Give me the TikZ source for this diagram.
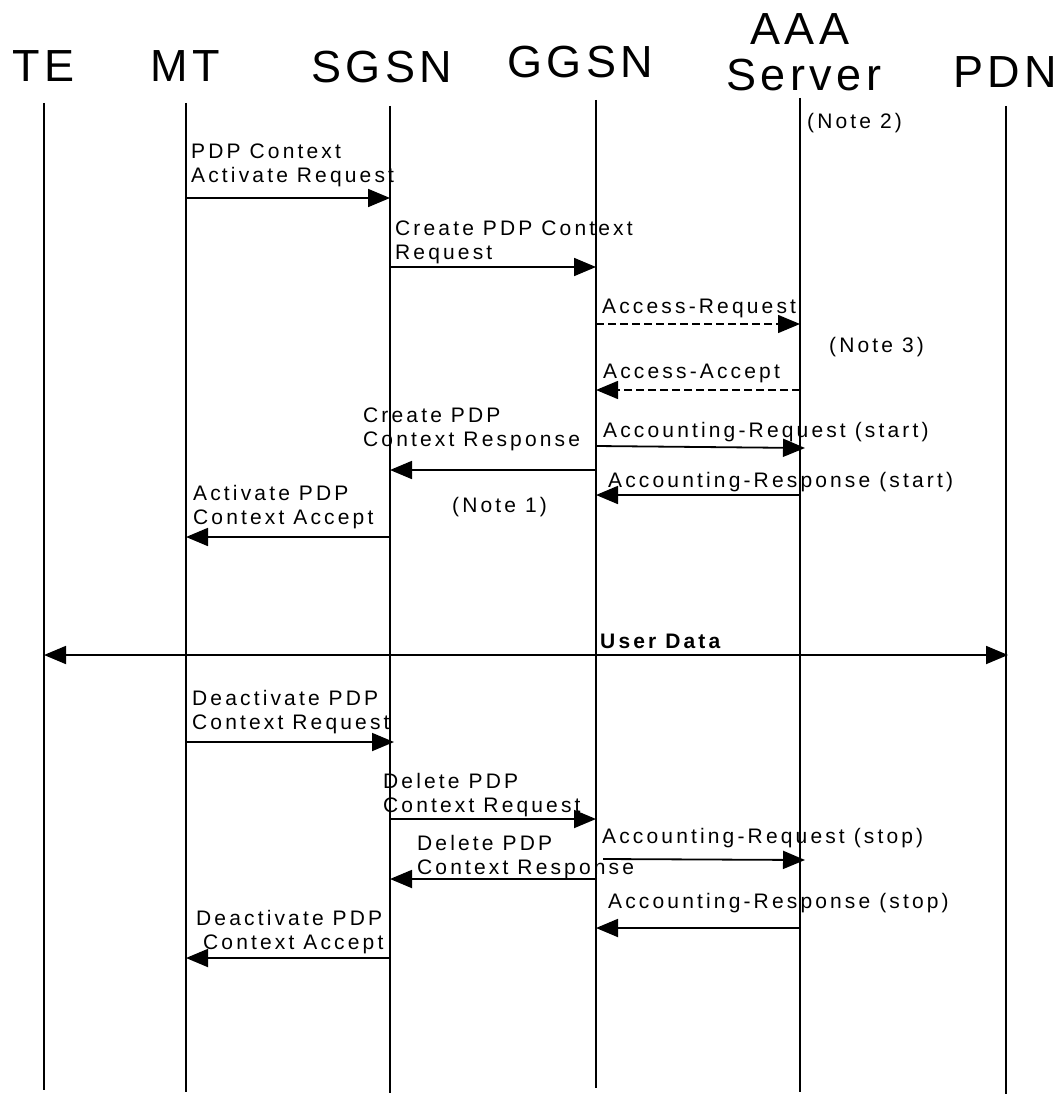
\documentclass[tikz,border=0pt]{standalone}
\usepackage{fontspec}
\setmainfont{Liberation Sans}
\newfontfamily\hdrfont[LetterSpace=10]{Liberation Sans}
\newfontfamily\msgfont[LetterSpace=15]{Liberation Sans}
\newfontfamily\msgboldfont[LetterSpace=15]{Liberation Sans Bold}
\usetikzlibrary{arrows.meta}
\newcommand\twoline[2]{\vtop{\hbox{#1}\hbox{#2}}}
\begin{document}
\begin{tikzpicture}[x=1pt,y=-1pt,
  hdr/.style={font=\hdrfont\fontsize{45}{50}\selectfont, inner sep=0pt, anchor=base west},
  msg/.style={font=\msgfont\fontsize{21}{24}\selectfont, inner sep=0pt, anchor=base west},
  boldmsg/.style={font=\msgboldfont\fontsize{21}{24}\selectfont, inner sep=0pt, anchor=base west},
  life/.style={line width=2pt},
  sig/.style={line width=1.8pt, -{Triangle[length=22pt,width=18pt]}},
  dsig/.style={line width=1.5pt, dash pattern=on 8pt off 4pt, -{Triangle[length=22pt,width=18pt]}},
  bisig/.style={line width=1.8pt, {Triangle[length=22pt,width=18pt]}-{Triangle[length=22pt,width=18pt]}}]
\useasboundingbox (0,0) rectangle (1056,1118);

% headers
\node[hdr] (hTE) at (12,82) {TE};
\node[hdr] (hMT) at (150,82) {MT};
\node[hdr] (hSGSN) at (311,83) {SGSN};
\node[hdr] (hGGSN) at (507,78) {GGSN};
\node[hdr] (hAAA) at (750,45) {AAA};
\node[hdr] (hServer) at (726,91) {Server};
\node[hdr] (hPDN) at (953,88) {PDN};

% lifelines
\coordinate (te1) at (44,103);   \coordinate (te2) at (44,1090);
\coordinate (mt1) at (186,103);  \coordinate (mt2) at (186,1092);
\coordinate (sg1) at (390,106);  \coordinate (sg2) at (390,1093);
\coordinate (gg1) at (596,100);  \coordinate (gg2) at (596,1088);
\coordinate (aa1) at (800,98);   \coordinate (aa2) at (800,1092);
\coordinate (pd1) at (1006,106); \coordinate (pd2) at (1006,1094);
\draw[life] (te1) -- (te2);
\draw[life] (mt1) -- (mt2);
\draw[life] (sg1) -- (sg2);
\draw[life] (gg1) -- (gg2);
\draw[life] (aa1) -- (aa2);
\draw[life] (pd1) -- (pd2);

\node[msg] (n2) at (807,129) {(Note 2)};

% messages
\node[msg] (t1) at (191,159) {\twoline{PDP Context}{Activate Request}};
\draw[sig] (mt1 |- 0,198) -- (sg1 |- 0,198);

\node[msg] (t2) at (395,235) {\twoline{Create PDP Context}{Request}};
\draw[sig] (sg1 |- 0,267) -- (gg1 |- 0,267);

\node[msg] (t3) at (602,313) {Access-Request};
\draw[dsig] (gg1 |- 0,324) -- (aa1 |- 0,324);

\node[msg] (n3) at (829,352) {(Note 3)};

\node[msg] (t4) at (603,378) {Access-Accept};
\draw[dsig] (aa1 |- 0,390) -- (gg1 |- 0,390);

\node[msg] (t5) at (363,422) {\twoline{Create PDP}{Context Response}};
\draw[sig] (gg1 |- 0,470) -- (sg1 |- 0,470);

\node[msg] (t6) at (603,437) {Accounting-Request (start)};
\coordinate (a6s) at (596,446); \coordinate (a6e) at (805,448);
\draw[sig] (a6s) -- (a6e);

\node[msg] (t7) at (608,487) {Accounting-Response (start)};
\draw[sig] (aa1 |- 0,495) -- (gg1 |- 0,495);

\node[msg] (t8) at (193,500) {\twoline{Activate PDP}{Context Accept}};
\draw[sig] (sg1 |- 0,537) -- (mt1 |- 0,537);

\node[msg] (n1) at (452,512) {(Note 1)};

\node[boldmsg] (t9) at (600,648) {User Data};
\coordinate (ud1) at (44,655); \coordinate (ud2) at (1008,655);
\draw[bisig] (ud1) -- (ud2);

\node[msg] (t10) at (192,705) {\twoline{Deactivate PDP}{Context Request}};
\coordinate (a10e) at (394,742);
\draw[sig] (mt1 |- 0,742) -- (a10e);

\node[msg] (t11) at (383,788) {\twoline{Delete PDP}{Context Request}};
\draw[sig] (sg1 |- 0,819) -- (gg1 |- 0,819);

\node[msg] (t12) at (602,843) {Accounting-Request (stop)};
\coordinate (a12s) at (603,859); \coordinate (a12e) at (805,860);
\draw[sig] (a12s) -- (a12e);

\node[msg] (t13) at (417,850) {\twoline{Delete PDP}{Context Response}};
\draw[sig] (gg1 |- 0,879) -- (sg1 |- 0,879);

\node[msg] (t14) at (608,908) {Accounting-Response (stop)};
\draw[sig] (aa1 |- 0,928) -- (gg1 |- 0,928);

\node[msg] (t15) at (196,925) {\twoline{Deactivate PDP}{\hspace{7pt}Context Accept}};
\draw[sig] (sg1 |- 0,958) -- (mt1 |- 0,958);
\end{tikzpicture}
\end{document}
